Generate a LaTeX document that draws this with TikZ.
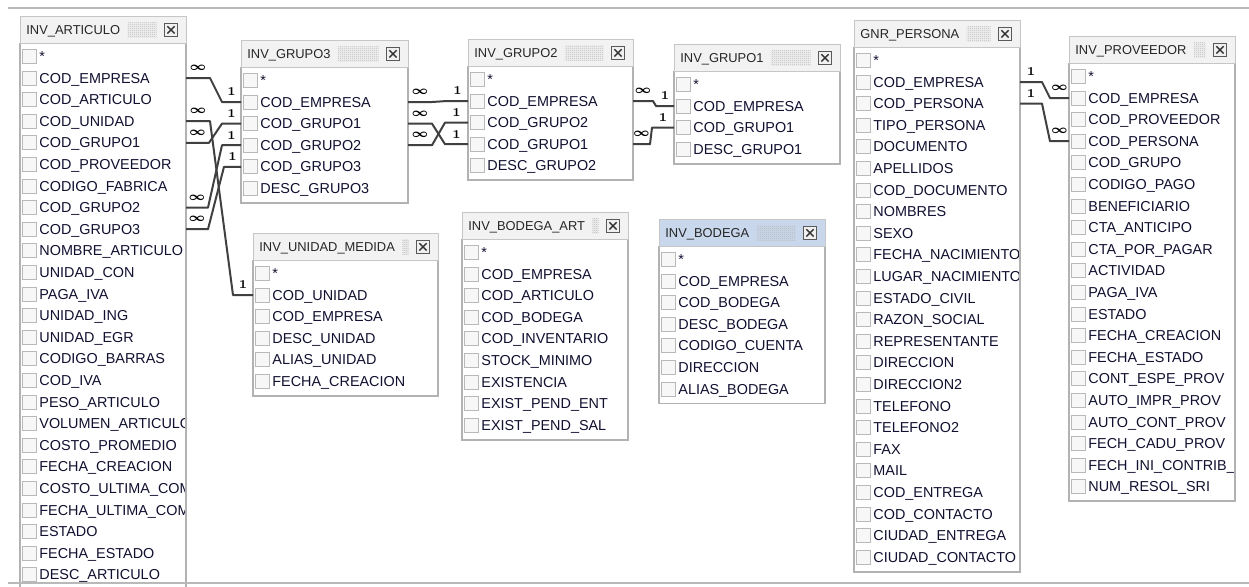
\documentclass[tikz,border=0pt]{standalone}
\usepackage{fontspec}
\newfontfamily\rowfont{Liberation Sans}
\usetikzlibrary{calc,patterns}

\definecolor{tinta}{RGB}{16,16,48}
\definecolor{selhead}{RGB}{201,215,236}

% Mẫu chấm nhỏ trên thanh tiêu đề
\pgfdeclarepatternformonly{finedots}{\pgfqpoint{0pt}{0pt}}{\pgfqpoint{1pt}{1pt}}{\pgfqpoint{1pt}{1pt}}{%
  \pgfpathrectangle{\pgfqpoint{0pt}{0pt}}{\pgfqpoint{0.5pt}{0.5pt}}%
  \pgfpathrectangle{\pgfqpoint{0.5pt}{0.5pt}}{\pgfqpoint{0.5pt}{0.5pt}}%
  \pgfusepath{fill}}

% Bảng: [màu tiêu đề]{tên}{x}{y hàng đầu}{rộng}{số hàng}{tiêu đề}{các cột}
\newcommand{\tabla}[8][gray!10]{%
  \pgfmathsetmacro\tabbot{#4+(#6-1)*21.6+14.5}
  \draw[tabbody] (#3,#4-13) rectangle (#3+#5,\tabbot);
  \draw[tabhead, fill=#1] (#3,#4-40) rectangle (#3+#5,#4-13);
  \node[tabtitle] (#2-t) at (#3+6,#4-22) {#7};
  \node[closebox] (#2-x) at (#3+#5-15,#4-26.5) {};
  \fill[pattern=finedots, pattern color=gray!55] ($(#2-t.east |- #2-x.north)+(7,0)$) rectangle ($(#2-x.south west)+(-7,0)$);
  \begin{scope}
    \clip (#3,#4-13) rectangle (#3+#5-2,\tabbot);
    \foreach \fld [count=\i] in {#8} {
      \pgfmathsetmacro\yy{#4+(\i-1)*21.6}
      \coordinate (#2-\i-l) at (#3,\yy);
      \coordinate (#2-\i-r) at (#3+#5,\yy);
      \node[chkbox] at (#3+2,\yy) {};
      \node[field] (#2-\i) at (#3+19,\yy+5) {\fld};
    }
  \end{scope}
}

\begin{document}
\begin{tikzpicture}[x=0.5pt, y=-0.5pt,
    frame/.style={draw=gray!55, line width=1.2pt},
    tabbody/.style={draw=gray!60, line width=0.9pt, fill=white},
    tabhead/.style={draw=gray!45, line width=0.5pt},
    tabtitle/.style={anchor=base west, inner sep=0, text=black!85, font=\rowfont\fontsize{6.45pt}{7pt}\selectfont},
    field/.style={anchor=base west, inner sep=0, text=tinta, font=\rowfont\fontsize{7.2pt}{8pt}\selectfont},
    chkbox/.style={draw=gray!55, fill=gray!6, line width=0.5pt, minimum size=7pt, inner sep=0, anchor=west},
    closebox/.style={draw=black!65, fill=gray!12, line width=0.5pt, minimum size=6.8pt, inner sep=0,
      path picture={\draw[black!80, line width=0.7pt]
        ([shift={(1.6pt,1.6pt)}]path picture bounding box.south west) -- ([shift={(-1.6pt,-1.6pt)}]path picture bounding box.north east)
        ([shift={(1.6pt,-1.6pt)}]path picture bounding box.north west) -- ([shift={(-1.6pt,1.6pt)}]path picture bounding box.south east);}},
    rel/.style={draw=black!75, line width=1pt, line join=round},
    many/.style={inner sep=0, yshift=5pt, font=\fontsize{6.5pt}{6.5pt}\selectfont\boldmath},
    one/.style={inner sep=0, yshift=5pt, font=\fontsize{6pt}{6pt}\selectfont\bfseries}]
  \useasboundingbox (0,0) rectangle (1249,586);
  \clip (0,0) rectangle (1249,586);

  % Các bảng
  \tabla{art}{20}{56.4}{166}{25}{INV\_ARTICULO}{*,COD\_EMPRESA,COD\_ARTICULO,COD\_UNIDAD,COD\_GRUPO1,COD\_PROVEEDOR,CODIGO\_FABRICA,COD\_GRUPO2,COD\_GRUPO3,NOMBRE\_ARTICULO,UNIDAD\_CON,PAGA\_IVA,UNIDAD\_ING,UNIDAD\_EGR,CODIGO\_BARRAS,COD\_IVA,PESO\_ARTICULO,VOLUMEN\_ARTICULO,COSTO\_PROMEDIO,FECHA\_CREACION,COSTO\_ULTIMA\_COM,FECHA\_ULTIMA\_COM,ESTADO,FECHA\_ESTADO,DESC\_ARTICULO}
  \tabla{g3}{241}{80.4}{167}{6}{INV\_GRUPO3}{*,COD\_EMPRESA,COD\_GRUPO1,COD\_GRUPO2,COD\_GRUPO3,DESC\_GRUPO3}
  \tabla{g2}{468}{79.4}{165}{5}{INV\_GRUPO2}{*,COD\_EMPRESA,COD\_GRUPO2,COD\_GRUPO1,DESC\_GRUPO2}
  \tabla{g1}{674}{84.4}{166}{4}{INV\_GRUPO1}{*,COD\_EMPRESA,COD\_GRUPO1,DESC\_GRUPO1}
  \tabla{um}{253}{273.4}{185}{6}{INV\_UNIDAD\_MEDIDA}{*,COD\_UNIDAD,COD\_EMPRESA,DESC\_UNIDAD,ALIAS\_UNIDAD,FECHA\_CREACION}
  \tabla{ba}{462}{252.4}{166}{9}{INV\_BODEGA\_ART}{*,COD\_EMPRESA,COD\_ARTICULO,COD\_BODEGA,COD\_INVENTARIO,STOCK\_MINIMO,EXISTENCIA,EXIST\_PEND\_ENT,EXIST\_PEND\_SAL}
  \tabla[selhead]{bod}{659}{259.4}{166}{7}{INV\_BODEGA}{*,COD\_EMPRESA,COD\_BODEGA,DESC\_BODEGA,CODIGO\_CUENTA,DIRECCION,ALIAS\_BODEGA}
  \tabla{per}{854}{60.4}{166}{24}{GNR\_PERSONA}{*,COD\_EMPRESA,COD\_PERSONA,TIPO\_PERSONA,DOCUMENTO,APELLIDOS,COD\_DOCUMENTO,NOMBRES,SEXO,FECHA\_NACIMIENTO,LUGAR\_NACIMIENTO,ESTADO\_CIVIL,RAZON\_SOCIAL,REPRESENTANTE,DIRECCION,DIRECCION2,TELEFONO,TELEFONO2,FAX,MAIL,COD\_ENTREGA,COD\_CONTACTO,CIUDAD\_ENTREGA,CIUDAD\_CONTACTO}
  \tabla{prov}{1069}{76.4}{166}{20}{INV\_PROVEEDOR}{*,COD\_EMPRESA,COD\_PROVEEDOR,COD\_PERSONA,COD\_GRUPO,CODIGO\_PAGO,BENEFICIARIO,CTA\_ANTICIPO,CTA\_POR\_PAGAR,ACTIVIDAD,PAGA\_IVA,ESTADO,FECHA\_CREACION,FECHA\_ESTADO,CONT\_ESPE\_PROV,AUTO\_IMPR\_PROV,AUTO\_CONT\_PROV,FECH\_CADU\_PROV,FECH\_INI\_CONTRIB\_,NUM\_RESOL\_SRI}

  % Quan hệ INV_ARTICULO
  \draw[rel] (art-2-r) -- node[many]{$\infty$} ++(24,0) -- ($(g3-2-l)+(-19,0)$) -- node[one]{1} (g3-2-l);
  \draw[rel] (art-4-r) -- node[many]{$\infty$} ++(24,0) -- ($(um-2-l)+(-20,0)$) -- node[one]{1} (um-2-l);
  \draw[rel] (art-5-r) -- node[many]{$\infty$} ++(23,0) -- ($(g3-3-l)+(-19,0)$) -- node[one]{1} (g3-3-l);
  \draw[rel] (art-8-r) -- node[many]{$\infty$} ++(22,0) -- ($(g3-4-l)+(-19,0)$) -- node[one]{1} (g3-4-l);
  \draw[rel] (art-9-r) -- node[many]{$\infty$} ++(22,0) -- ($(g3-5-l)+(-17,0)$) -- node[one]{1} (g3-5-l);

  % Quan hệ giữa các nhóm
  \draw[rel] (g3-2-r) -- node[many]{$\infty$} ++(24,0) -- ($(g2-2-l)+(-21,0)$) -- node[one]{1} (g2-2-l);
  \draw[rel] (g3-3-r) -- node[many]{$\infty$} ++(24,0) -- ($(g2-4-l)+(-23,0)$) -- node[one]{1} (g2-4-l);
  \draw[rel] (g3-4-r) -- node[many]{$\infty$} ++(24,0) -- ($(g2-3-l)+(-23,0)$) -- node[one]{1} (g2-3-l);
  \draw[rel] (g2-2-r) -- node[many]{$\infty$} ++(20,0) -- ($(g1-2-l)+(-18,0)$) -- node[one]{1} (g1-2-l);
  \draw[rel] (g2-4-r) -- node[many]{$\infty$} ++(17,0) -- ($(g1-3-l)+(-22,0)$) -- node[one]{1} (g1-3-l);

  % Quan hệ GNR_PERSONA - INV_PROVEEDOR
  \draw[rel] (per-2-r) -- node[one]{1} ++(22,0) -- ($(prov-2-l)+(-19,0)$) -- node[many]{$\infty$} (prov-2-l);
  \draw[rel] (per-3-r) -- node[one]{1} ++(22,0) -- ($(prov-4-l)+(-19,0)$) -- node[many]{$\infty$} (prov-4-l);

  % Khung vùng nhìn
  \draw[frame] (8,8) -- (1249,8);
  \draw[frame] (8,583) -- (1249,583);
\end{tikzpicture}
\end{document}
